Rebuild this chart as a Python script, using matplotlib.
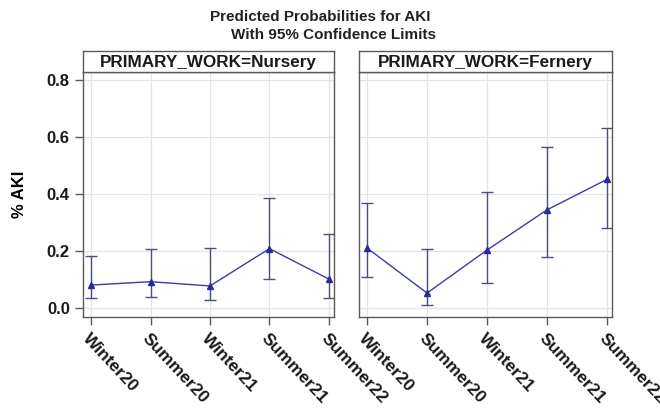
import numpy as np
import matplotlib.pyplot as plt

plt.rcParams['font.family'] = ['Liberation Sans', 'DejaVu Sans']

seasons = ['Winter20', 'Summer20', 'Winter21', 'Summer21', 'Summer22']
groups = ['Nursery', 'Fernery']

nursery_p = [0.080, 0.092, 0.077, 0.208, 0.101]
nursery_lo = [0.034, 0.037, 0.027, 0.102, 0.034]
nursery_hi = [0.182, 0.206, 0.209, 0.384, 0.259]

fernery_p = [0.210, 0.052, 0.203, 0.344, 0.451]
fernery_lo = [0.110, 0.010, 0.086, 0.177, 0.282]
fernery_hi = [0.369, 0.206, 0.408, 0.563, 0.633]

data = {
    'Nursery': (nursery_p, nursery_lo, nursery_hi),
    'Fernery': (fernery_p, fernery_lo, fernery_hi),
}

fig = plt.figure(figsize=(6.6, 4.11), dpi=100)
fig.text(0.485, 0.958, 'Predicted Probabilities for AKI', ha='center', va='center',
         fontsize=11, fontweight='bold', color='#222222')
fig.text(0.506, 0.915, 'With 95% Confidence Limits', ha='center', va='center',
         fontsize=11, fontweight='bold', color='#222222')

edge = '#5a5a5a'
lefts = [83 / 660, 359 / 660]
widths = [251 / 660, 253 / 660]
bottom = 1 - 317 / 411
height = (317 - 72) / 411
head_h = 21 / 411

x = np.arange(len(seasons))
for i, g in enumerate(groups):
    ax = fig.add_axes([lefts[i], bottom, widths[i], height])
    p, lo, hi = data[g]
    p = np.array(p)
    err = [p - np.array(lo), np.array(hi) - p]
    ax.errorbar(x, p, yerr=err, fmt='none', ecolor='#4a5078', elinewidth=1.0,
                capsize=4, capthick=1.0, zorder=3)
    ax.plot(x, p, color='#3c3ca8', lw=1.0, marker='^', ms=5,
            mfc='#2a2a9a', mec='#2a2a9a', zorder=4)
    ax.set_xlim(-0.135, 4.085)
    ax.set_ylim(-0.032, 0.828)
    ax.set_yticks([0.0, 0.2, 0.4, 0.6, 0.8])
    ax.set_xticks(x)
    ax.grid(True, color='#e4e4e4', lw=0.9)
    ax.set_axisbelow(True)
    for s in ax.spines.values():
        s.set_color(edge)
        s.set_linewidth(1.0)
    ax.tick_params(axis='x', length=6, width=1, color=edge, direction='out', pad=4)
    ax.set_xticklabels(seasons, rotation=-47, ha='left', va='top',
                       rotation_mode='anchor', fontsize=12.5, fontweight='bold',
                       color='#1a1a1a')
    if i == 0:
        ax.tick_params(axis='y', length=6, width=1, color=edge, labelsize=12)
        ax.set_yticklabels(['0.0', '0.2', '0.4', '0.6', '0.8'], fontweight='bold',
                           color='#1a1a1a')
        ax.set_ylabel('% AKI', fontsize=12, fontweight='bold', labelpad=14)
    else:
        ax.tick_params(axis='y', left=False, labelleft=False)

    hax = fig.add_axes([lefts[i], bottom + height, widths[i], head_h])
    hax.set_xticks([])
    hax.set_yticks([])
    for s in hax.spines.values():
        s.set_color(edge)
        s.set_linewidth(1.0)
    hax.text(0.5, 0.45, 'PRIMARY_WORK=' + g, ha='center', va='center',
             fontsize=12.3, fontweight='bold', color='#1a1a1a',
             transform=hax.transAxes)

fig.savefig('out.png', dpi=100)
